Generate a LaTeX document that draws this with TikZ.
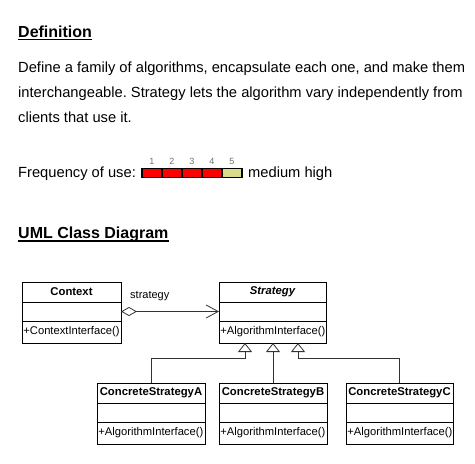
\documentclass[tikz,border=0pt]{standalone}
\usepackage{fontspec}
\setmainfont{Liberation Sans}
\usetikzlibrary{arrows.meta,calc}
\definecolor{khaki}{RGB}{218,218,140}
\frenchspacing
\newcommand\umlclass[6]{%
  \node[clsbox, minimum width=#4pt, minimum height=20pt, anchor=north west,
        font=\fontsize{11.3}{13}\selectfont\bfseries] (#1t) at (#2,#3) {#5};
  \node[clsbox, minimum width=#4pt, minimum height=19pt, anchor=north] (#1m) at (#1t.south) {};
  \node[clsbox, minimum width=#4pt, minimum height=22pt, anchor=north] (#1o) at (#1m.south) {};
  \node[optext] (#1x) at (#1o.west) {#6};
}
\begin{document}
\begin{tikzpicture}[x=1pt,y=-1pt,
  txt/.style={inner sep=0pt, anchor=base west, font=\fontsize{14.7}{17}\selectfont},
  head/.style={inner sep=0pt, anchor=base west, font=\fontsize{16}{19}\selectfont\bfseries},
  uline/.style={line width=1.4pt},
  num/.style={inner sep=0pt, anchor=base, text=black!55, font=\fontsize{9}{10}\selectfont},
  seg/.style={draw=black, line width=1.5pt, minimum width=20pt, minimum height=9pt, inner sep=0pt, outer sep=0pt},
  clsbox/.style={draw=black, line width=0.8pt, inner sep=0pt, outer sep=0pt},
  optext/.style={anchor=west, inner sep=1.2pt, font=\fontsize{11.2}{13}\selectfont},
  conn/.style={draw=black!80, line width=0.8pt},
  gen/.style={conn, -{Triangle[open, length=9pt, width=14pt]}},
  aggr/.style={conn, {Diamond[open, fill=white, length=16pt, width=9pt]}-{Straight Barb[length=12pt, width=13pt]}},
]
\useasboundingbox (0,0) rectangle (475,464);
\fill[white] (0,0) rectangle (475,464);

% Definition
\node[head] (def) at (18,37) {Definition};
\draw[uline] ([yshift=-2.6pt]def.base west) -- ([yshift=-2.6pt]def.base east);
\node[txt] (l1) at (18,72) {Define a family of algorithms, encapsulate each one, and make them};
\node[txt] (l2) at (18,97.3) {interchangeable. Strategy lets the algorithm vary independently from};
\node[txt] (l3) at (18,122) {clients that use it.};

% Frequency
\node[txt] (freq) at (18,177.5) {Frequency of use:};
\node[seg, fill=red] (b1) at (152,173) {};
\node[seg, fill=red] (b2) at (172,173) {};
\node[seg, fill=red] (b3) at (192,173) {};
\node[seg, fill=red] (b4) at (212,173) {};
\node[seg, fill=khaki] (b5) at (232,173) {};
\node[num] (n1) at (152,164.5) {1};
\node[num] (n2) at (172,164.5) {2};
\node[num] (n3) at (192,164.5) {3};
\node[num] (n4) at (212,164.5) {4};
\node[num] (n5) at (232,164.5) {5};
\node[txt] (med) at (248,177.5) {medium high};

% UML heading
\node[head] (uml) at (18,238.3) {UML Class Diagram};
\draw[uline] ([yshift=-2.6pt]uml.base west) -- ([yshift=-2.6pt]uml.base east);

% Classes
\umlclass{ctx}{22}{282}{99}{Context}{+ContextInterface()}
\umlclass{str}{219}{282}{107}{\itshape Strategy}{+AlgorithmInterface()}
\umlclass{ca}{97}{383}{108}{ConcreteStrategyA}{+AlgorithmInterface()}
\umlclass{cb}{219}{383}{108}{ConcreteStrategyB}{+AlgorithmInterface()}
\umlclass{cc}{346}{383}{107}{ConcreteStrategyC}{+AlgorithmInterface()}

% Association
\draw[aggr] (ctxm.east) -- (strm.west);
\node[inner sep=0pt, anchor=base west, font=\fontsize{11}{13}\selectfont] (lab) at (130,298.5) {strategy};

% Generalizations
\coordinate (s1) at ($(stro.south)+(-27.5,0)$);
\coordinate (s3) at ($(stro.south)+(25.5,0)$);
\draw[gen] (cat.north) |- ([yshift=-15pt]s1) -- (s1);
\draw[gen] (cbt.north) -- (cbt.north |- stro.south);
\draw[gen] (cct.north) |- ([yshift=-15pt]s3) -- (s3);
\end{tikzpicture}
\end{document}
